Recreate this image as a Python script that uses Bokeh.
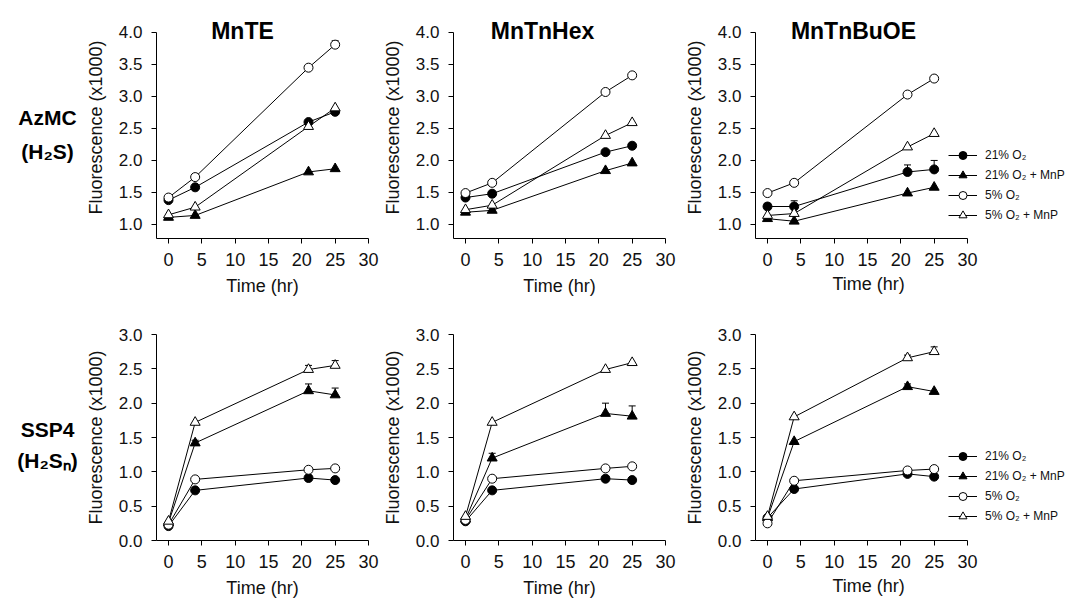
from bokeh.plotting import figure
from bokeh.layouts import column, row
from bokeh.models import (ColumnDataSource, FixedTicker, NumeralTickFormatter, Label,
                          Legend, LegendItem, Whisker, TeeHead, Range1d, Title)
from bokeh.embed import file_html
from bokeh.resources import INLINE

FONT = "Liberation Sans"

# ---------------- data ----------------
TIME = [0, 4, 21, 25]
SERIES = ["21% O₂", "21% O₂ + MnP", "5% O₂", "5% O₂ + MnP"]
COMPOUNDS = ["MnTE", "MnTnHex", "MnTnBuOE"]
ROW_LABELS = [("AzMC", "(H₂S)"), ("SSP4", "(H₂Sₙ)")]
X_LABEL = "Time (hr)"
Y_LABEL = "Fluorescence (x1000)"
X_TICKS = [0, 5, 10, 15, 20, 25, 30]
AZMC_Y_TICKS = [1.0, 1.5, 2.0, 2.5, 3.0, 3.5, 4.0]
SSP4_Y_TICKS = [0.0, 0.5, 1.0, 1.5, 2.0, 2.5, 3.0]

# AzMC (H2S) fluorescence (x1000)
azmc_mnte_21 = [1.38, 1.58, 2.60, 2.76]
azmc_mnte_21_mnp = [1.11, 1.14, 1.82, 1.87]
azmc_mnte_5 = [1.42, 1.74, 3.45, 3.81]
azmc_mnte_5_mnp = [1.15, 1.27, 2.53, 2.82]

azmc_hex_21 = [1.42, 1.48, 2.13, 2.23]
azmc_hex_21_mnp = [1.19, 1.22, 1.84, 1.96]
azmc_hex_5 = [1.49, 1.65, 3.07, 3.33]
azmc_hex_5_mnp = [1.23, 1.30, 2.39, 2.59]

azmc_buoe_21 = [1.28, 1.28, 1.82, 1.86]
azmc_buoe_21_mnp = [1.09, 1.05, 1.49, 1.58]
azmc_buoe_5 = [1.49, 1.65, 3.03, 3.28]
azmc_buoe_5_mnp = [1.14, 1.17, 2.21, 2.42]

# SSP4 (H2Sn) fluorescence (x1000)
ssp4_mnte_21 = [0.21, 0.73, 0.91, 0.88]
ssp4_mnte_21_mnp = [0.26, 1.42, 2.18, 2.12]
ssp4_mnte_5 = [0.23, 0.89, 1.03, 1.05]
ssp4_mnte_5_mnp = [0.28, 1.72, 2.49, 2.55]

ssp4_hex_21 = [0.28, 0.73, 0.90, 0.88]
ssp4_hex_21_mnp = [0.31, 1.20, 1.85, 1.81]
ssp4_hex_5 = [0.30, 0.90, 1.05, 1.08]
ssp4_hex_5_mnp = [0.35, 1.72, 2.49, 2.59]

ssp4_buoe_21 = [0.33, 0.75, 0.97, 0.93]
ssp4_buoe_21_mnp = [0.33, 1.44, 2.24, 2.17]
ssp4_buoe_5 = [0.25, 0.87, 1.02, 1.04]
ssp4_buoe_5_mnp = [0.35, 1.80, 2.66, 2.75]

# upper error bars (SEM)
azmc_mnte_err = [[0.02, 0.03, 0.03, 0.03], [0.02, 0.02, 0.02, 0.02], [0.03, 0.03, 0.03, 0.06], [0.02, 0.02, 0.03, 0.03]]
azmc_hex_err = [[0.02, 0.02, 0.03, 0.03], [0.01, 0.02, 0.02, 0.02], [0.02, 0.02, 0.03, 0.03], [0.02, 0.02, 0.03, 0.03]]
azmc_buoe_err = [[0.05, 0.09, 0.11, 0.14], [0.02, 0.02, 0.02, 0.03], [0.02, 0.02, 0.03, 0.04], [0.02, 0.02, 0.03, 0.03]]
ssp4_mnte_err = [[0.02, 0.02, 0.03, 0.02], [0.02, 0.04, 0.10, 0.10], [0.02, 0.02, 0.02, 0.02], [0.02, 0.03, 0.06, 0.07]]
ssp4_hex_err = [[0.02, 0.02, 0.02, 0.02], [0.02, 0.07, 0.15, 0.15], [0.02, 0.02, 0.02, 0.02], [0.02, 0.02, 0.03, 0.03]]
ssp4_buoe_err = [[0.02, 0.02, 0.02, 0.02], [0.02, 0.03, 0.04, 0.03], [0.02, 0.02, 0.02, 0.02], [0.02, 0.03, 0.04, 0.07]]

AZMC = [
    ([azmc_mnte_21, azmc_mnte_21_mnp, azmc_mnte_5, azmc_mnte_5_mnp], azmc_mnte_err),
    ([azmc_hex_21, azmc_hex_21_mnp, azmc_hex_5, azmc_hex_5_mnp], azmc_hex_err),
    ([azmc_buoe_21, azmc_buoe_21_mnp, azmc_buoe_5, azmc_buoe_5_mnp], azmc_buoe_err),
]
SSP4 = [
    ([ssp4_mnte_21, ssp4_mnte_21_mnp, ssp4_mnte_5, ssp4_mnte_5_mnp], ssp4_mnte_err),
    ([ssp4_hex_21, ssp4_hex_21_mnp, ssp4_hex_5, ssp4_hex_5_mnp], ssp4_hex_err),
    ([ssp4_buoe_21, ssp4_buoe_21_mnp, ssp4_buoe_5, ssp4_buoe_5_mnp], ssp4_buoe_err),
]

MARKERS = ["circle", "triangle", "circle", "triangle"]
FILLS = ["black", "black", "white", "white"]
SIZES = [9, 10, 9, 10]

# ---------------- layout (pixels) ----------------
PX_PER_HR = 212 / 31.8
X_START = -1.8
X_END = 30
LEFTS = [72, 71, 75]
RIGHTS = [11, 15, 0]
FRAME_WS = [212, 212, 314]
TITLE_X = [11.1, 11.55, 12.9]
LABEL_W = 82


def style_axes(p):
    for ax in (p.xaxis, p.yaxis):
        ax.axis_line_color = "black"
        ax.major_tick_line_color = "black"
        ax.major_tick_in = 0
        ax.major_tick_out = 5
        ax.minor_tick_line_color = None
        ax.axis_label_text_font = FONT
        ax.axis_label_text_font_style = "normal"
        ax.axis_label_text_color = "#111111"
        ax.major_label_text_font = FONT
        ax.major_label_text_color = "#111111"
    p.xaxis.major_label_text_font_size = "18px"
    p.xaxis.axis_label_text_font_size = "18px"
    p.xaxis.major_label_standoff = 9
    p.xaxis.axis_label_standoff = 7
    p.yaxis.major_label_text_font_size = "17px"
    p.yaxis.axis_label_text_font_size = "18px"
    p.yaxis.major_label_standoff = 9
    p.yaxis.axis_label_standoff = 10


def make_panel(col, vals, errs, ymin, ymax, ybounds, yticks, top, bottom, frame_h, legend_loc):
    fw = FRAME_WS[col]
    x_end = X_START + fw / PX_PER_HR
    p = figure(output_backend="svg", toolbar_location=None, title=None,
               frame_width=fw, frame_height=frame_h,
               min_border_left=LEFTS[col], min_border_right=RIGHTS[col],
               min_border_top=top, min_border_bottom=bottom,
               x_range=Range1d(X_START, x_end), y_range=Range1d(ymin, ymax),
               background_fill_color="white", border_fill_color="white")
    p.outline_line_color = None
    p.grid.visible = False

    p.xaxis.ticker = FixedTicker(ticks=X_TICKS)
    p.yaxis.ticker = FixedTicker(ticks=yticks)
    p.xaxis.bounds = (X_START, X_END)
    p.yaxis.bounds = ybounds
    p.yaxis.formatter = NumeralTickFormatter(format="0.0")
    p.yaxis.axis_label = Y_LABEL
    style_axes(p)
    if legend_loc is None:
        p.xaxis.axis_label = X_LABEL
    else:
        # frame is widened for the legend: put the x label under the axis span itself
        p.add_layout(Title(text=X_LABEL, align="left", offset=77, standoff=7.5,
                           vertical_align="middle", text_font=FONT, text_font_style="normal",
                           text_font_size="18px", text_color="#111111"), "below")

    lines, dots = [], []
    for i in range(4):
        src = ColumnDataSource(dict(x=TIME, y=vals[i]))
        lines.append(p.line("x", "y", source=src, line_color="black", line_width=1))
    for i in range(4):
        keep = [k for k, e in enumerate(errs[i]) if e > 0.035]
        if keep:
            esrc = ColumnDataSource(dict(x=[TIME[k] for k in keep],
                                         y=[vals[i][k] for k in keep],
                                         upper=[vals[i][k] + errs[i][k] for k in keep]))
            p.add_layout(Whisker(source=esrc, base="x", lower="y", upper="upper",
                                 line_color="black", line_width=1,
                                 upper_head=TeeHead(size=7, line_color="black", line_width=1),
                                 lower_head=None))
    for i in range(4):
        src = ColumnDataSource(dict(x=TIME, y=vals[i]))
        dots.append(p.scatter("x", "y", source=src, marker=MARKERS[i], size=SIZES[i],
                              fill_color=FILLS[i], line_color="black", line_width=1))

    if legend_loc is not None:
        items = [LegendItem(label=SERIES[i], renderers=[lines[i], dots[i]]) for i in range(4)]
        leg = Legend(items=items, location=legend_loc, orientation="vertical",
                     padding=0, margin=0, spacing=0, glyph_width=29, glyph_height=20,
                     label_height=20, label_standoff=8, label_text_font_size="12px",
                     label_text_font=FONT, label_text_color="#111111",
                     border_line_color=None, background_fill_alpha=0)
        p.add_layout(leg)
    return p


def make_label_fig(height, texts, ys):
    f = figure(output_backend="svg", toolbar_location=None, title=None,
               width=LABEL_W, height=height,
               frame_width=LABEL_W, frame_height=height,
               min_border=0, min_border_left=0, min_border_right=0,
               min_border_top=0, min_border_bottom=0,
               x_range=Range1d(0, LABEL_W), y_range=Range1d(0, height),
               x_axis_location=None, y_axis_location=None,
               background_fill_color="white", border_fill_color="white")
    f.outline_line_color = None
    f.grid.visible = False
    for t, y in zip(texts, ys):
        f.add_layout(Label(x=47, y=y, text=t, text_align="center", text_baseline="middle",
                           text_font=FONT, text_font_style="bold", text_font_size="21px",
                           text_color="black"))
    return f


# top row: 16 + 222 + 62 = 300 px tall
top_row = [make_label_fig(300, ROW_LABELS[0], [199, 165])]
for c in range(3):
    vals, errs = AZMC[c]
    p = make_panel(c, vals, errs, 0.78, 4.25, (0.78, 4.0), AZMC_Y_TICKS, 16, 62, 222,
                   (193, 13) if c == 2 else None)
    p.add_layout(Label(x=TITLE_X[c], y=4.03, text=COMPOUNDS[c], text_align="center",
                       text_baseline="middle", text_font=FONT, text_font_style="bold",
                       text_font_size="23px", text_color="black"))
    top_row.append(p)

# bottom row: 34 + 206 + 62 = 302 px tall
bottom_row = [make_label_fig(302, ROW_LABELS[1], [207, 176])]
for c in range(3):
    vals, errs = SSP4[c]
    p = make_panel(c, vals, errs, 0.0, 3.0, (0.0, 3.0), SSP4_Y_TICKS, 34, 62, 206,
                   (193, 14) if c == 2 else None)
    bottom_row.append(p)

layout = column(row(*top_row), row(*bottom_row))
open("out.html", "w").write(file_html(layout, INLINE))
